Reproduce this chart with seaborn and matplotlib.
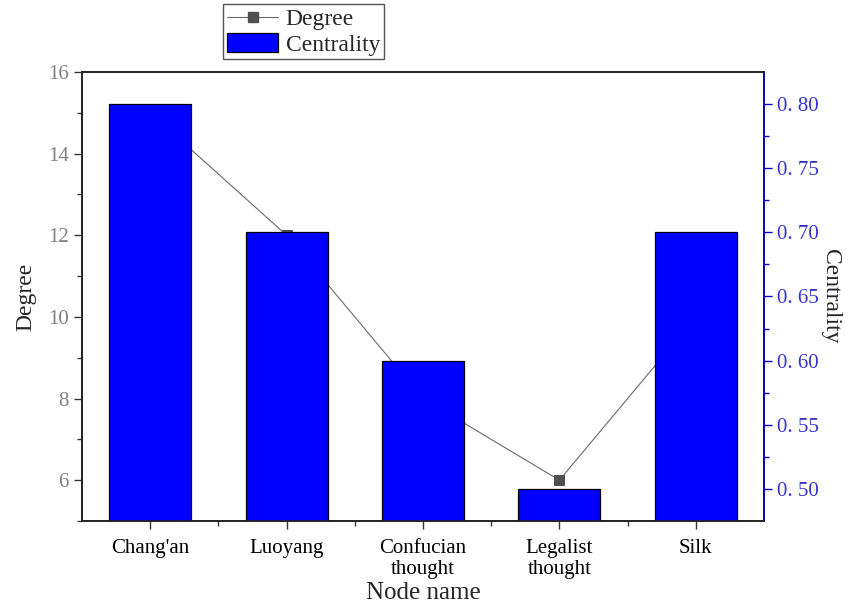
import matplotlib
matplotlib.use("Agg")
import matplotlib.pyplot as plt
import seaborn as sns
from matplotlib.ticker import MultipleLocator, FixedLocator, FixedFormatter
from matplotlib.lines import Line2D
from matplotlib.patches import Patch

nodes = ["Chang'an", "Luoyang", "Confucian\nthought", "Legalist\nthought", "Silk"]
degree = [15, 12, 8, 6, 10]
centrality = [0.80, 0.70, 0.60, 0.50, 0.70]
right_ticks = [0.50, 0.55, 0.60, 0.65, 0.70, 0.75, 0.80]
right_labels = ["0. 50", "0. 55", "0. 60", "0. 65", "0. 70", "0. 75", "0. 80"]

sns.set_theme(style="white")
plt.rcParams["font.family"] = ["Liberation Serif", "DejaVu Serif"]

fig = plt.figure(figsize=(8.48, 6.03), dpi=100)
ax = fig.add_axes([82 / 848, 82 / 603, 682 / 848, 449 / 603])
ax2 = ax.twinx()

# linea Degree (asse sinistro, sotto le barre)
sns.lineplot(x=nodes, y=degree, ax=ax, sort=False, color="#6a6a6a", linewidth=0.8,
             marker="s", markersize=7, markerfacecolor="#505050",
             markeredgecolor="#505050")

# barre Centrality (asse destro)
sns.barplot(x=nodes, y=centrality, ax=ax2, color="#0000ff", saturation=1,
            edgecolor="black", linewidth=0.9, width=0.6)

ax.set_xlim(-0.5, 4.5)
ax.set_ylim(5, 16)
ax2.set_ylim(0.4755, 0.8245)

ax.yaxis.set_major_locator(MultipleLocator(2))
ax.yaxis.set_minor_locator(MultipleLocator(1))
ax.xaxis.set_minor_locator(FixedLocator([0.5, 1.5, 2.5, 3.5]))
ax2.yaxis.set_major_locator(FixedLocator(right_ticks))
ax2.yaxis.set_major_formatter(FixedFormatter(right_labels))
ax2.yaxis.set_minor_locator(MultipleLocator(0.025))

ax.tick_params(axis="y", which="major", direction="out", length=6, width=1,
               colors="#333333", labelcolor="#808080", labelsize=15, left=True)
ax.tick_params(axis="y", which="minor", direction="out", length=3.5, width=1,
               colors="#333333", left=True)
ax.tick_params(axis="x", which="major", direction="out", length=6, width=1,
               colors="#333333", labelcolor="black", labelsize=15, bottom=True,
               pad=7)
ax.tick_params(axis="x", which="minor", direction="out", length=3.5, width=1,
               colors="#333333", bottom=True)
ax2.tick_params(axis="y", which="major", direction="out", length=6, width=1,
                colors="#0000cc", labelcolor="#3333cc", labelsize=15, right=True)
ax2.tick_params(axis="y", which="minor", direction="out", length=3.5, width=1,
                colors="#0000cc", right=True)
ax2.tick_params(axis="x", bottom=False, labelbottom=False)
for lbl in ax.get_xticklabels():
    lbl.set_linespacing(1.12)

for a in (ax, ax2):
    for s in a.spines.values():
        s.set_color("#222222")
        s.set_linewidth(1.2)
ax2.spines["right"].set_color("#0000cc")

ax.set_xlabel("Node name", fontsize=18)
ax.xaxis.set_label_coords(0.5, -0.136)
ax.set_ylabel("Degree", fontsize=17, labelpad=8)
ax2.set_ylabel("Centrality", fontsize=17, rotation=270, labelpad=16)
ax2.set_xlabel("")

handles = [
    Line2D([], [], color="#6a6a6a", linewidth=0.8, marker="s", markersize=7,
           markerfacecolor="#505050", markeredgecolor="#505050"),
    Patch(facecolor="#0000ff", edgecolor="black", linewidth=0.9),
]
fig.legend(handles, ["Degree", "Centrality"], loc="upper left",
           bbox_to_anchor=(223 / 848, 1 - 4 / 603), fontsize=17, frameon=True,
           fancybox=False, edgecolor="#555555", framealpha=1,
           handlelength=2.2, handleheight=0.9, handletextpad=0.3,
           borderpad=0.15, labelspacing=0.1, borderaxespad=0)

fig.savefig("out.png", dpi=100)
